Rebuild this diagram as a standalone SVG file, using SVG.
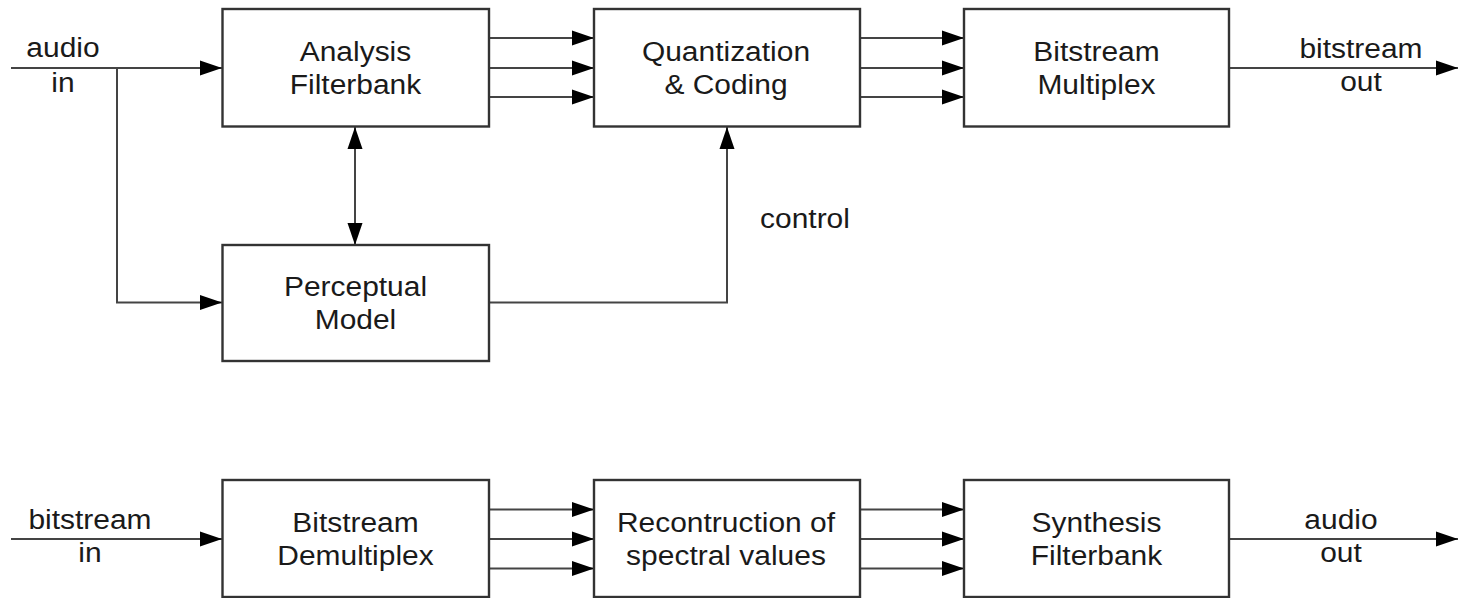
<svg xmlns="http://www.w3.org/2000/svg" width="1458" height="598" viewBox="0 0 1458 598">
  <style>
    .box { fill: #ffffff; stroke: #333333; stroke-width: 2.4; }
    .wire { fill: none; stroke: #444444; stroke-width: 2; }
    .lbl { font-family: "Liberation Sans", Arial, sans-serif; font-size: 28px; fill: #1a1a1a; text-anchor: middle;
           transform-box: fill-box; transform-origin: center; transform: scaleX(1.07); }
  </style>
  <defs>
    <marker id="arrow" markerUnits="userSpaceOnUse" markerWidth="23" markerHeight="16" refX="22" refY="8" orient="auto-start-reverse">
      <path d="M0,0.5 L22,8 L0,15.5 z" fill="#000000"/>
    </marker>
  </defs>

  <rect width="1458" height="598" fill="#ffffff"/>

  <!-- connectors -->
  <g id="connectors">
    <!-- encoder -->
    <path class="wire" d="M11,68 H222" marker-end="url(#arrow)"/>
    <path class="wire" d="M117,68 V302.5 H222" marker-end="url(#arrow)"/>
    <path class="wire" d="M489,38 H594" marker-end="url(#arrow)"/>
    <path class="wire" d="M489,68 H594" marker-end="url(#arrow)"/>
    <path class="wire" d="M489,97 H594" marker-end="url(#arrow)"/>
    <path class="wire" d="M860,38 H964" marker-end="url(#arrow)"/>
    <path class="wire" d="M860,68 H964" marker-end="url(#arrow)"/>
    <path class="wire" d="M860,97 H964" marker-end="url(#arrow)"/>
    <path class="wire" d="M1229,68 H1458" marker-end="url(#arrow)"/>
    <path class="wire" d="M355,127 V245" marker-start="url(#arrow)" marker-end="url(#arrow)"/>
    <path class="wire" d="M489,302.5 H727 V127" marker-end="url(#arrow)"/>
    <!-- decoder -->
    <path class="wire" d="M11,539 H222" marker-end="url(#arrow)"/>
    <path class="wire" d="M489,509.5 H594" marker-end="url(#arrow)"/>
    <path class="wire" d="M489,539 H594" marker-end="url(#arrow)"/>
    <path class="wire" d="M489,568.5 H594" marker-end="url(#arrow)"/>
    <path class="wire" d="M860,509.5 H964" marker-end="url(#arrow)"/>
    <path class="wire" d="M860,539 H964" marker-end="url(#arrow)"/>
    <path class="wire" d="M860,568.5 H964" marker-end="url(#arrow)"/>
    <path class="wire" d="M1229,539 H1458" marker-end="url(#arrow)"/>
  </g>

  <!-- signal labels -->
  <g id="labels">
    <text class="lbl" x="63" y="57">audio</text>
    <text class="lbl" x="63" y="92">in</text>
    <text class="lbl" x="1361" y="58">bitstream</text>
    <text class="lbl" x="1361" y="91">out</text>
    <text class="lbl" x="805" y="228">control</text>
    <text class="lbl" x="90" y="529">bitstream</text>
    <text class="lbl" x="90" y="562">in</text>
    <text class="lbl" x="1341" y="529">audio</text>
    <text class="lbl" x="1341" y="562">out</text>
  </g>

  <!-- encoder blocks -->
  <g id="analysis-filterbank">
    <rect class="box" x="222.5" y="9" width="266.5" height="117.5"/>
    <text class="lbl" x="355.5" y="61">Analysis</text>
    <text class="lbl" x="355.5" y="94">Filterbank</text>
  </g>
  <g id="quantization-coding">
    <rect class="box" x="594" y="9" width="266" height="117.5"/>
    <text class="lbl" x="726" y="61">Quantization</text>
    <text class="lbl" x="726" y="94">&amp; Coding</text>
  </g>
  <g id="bitstream-multiplex">
    <rect class="box" x="964" y="9" width="265" height="117.5"/>
    <text class="lbl" x="1096.5" y="61">Bitstream</text>
    <text class="lbl" x="1096.5" y="94">Multiplex</text>
  </g>
  <g id="perceptual-model">
    <rect class="box" x="222.5" y="245" width="266.5" height="116"/>
    <text class="lbl" x="355.5" y="296">Perceptual</text>
    <text class="lbl" x="355.5" y="329">Model</text>
  </g>

  <!-- decoder blocks -->
  <g id="bitstream-demultiplex">
    <rect class="box" x="222.5" y="480" width="266.5" height="117"/>
    <text class="lbl" x="355.5" y="532">Bitstream</text>
    <text class="lbl" x="355.5" y="565">Demultiplex</text>
  </g>
  <g id="spectral-reconstruction">
    <rect class="box" x="594" y="480" width="266" height="117"/>
    <text class="lbl" x="726" y="532">Recontruction of</text>
    <text class="lbl" x="726" y="565">spectral values</text>
  </g>
  <g id="synthesis-filterbank">
    <rect class="box" x="964" y="480" width="265" height="117"/>
    <text class="lbl" x="1096.5" y="532">Synthesis</text>
    <text class="lbl" x="1096.5" y="565">Filterbank</text>
  </g>
</svg>
